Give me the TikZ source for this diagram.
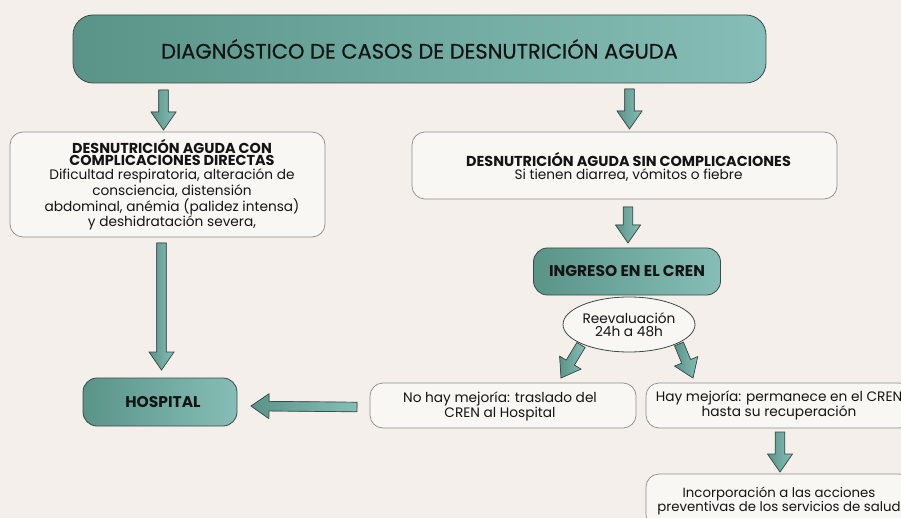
\documentclass[tikz,border=0pt]{standalone}
\usepackage{fontspec}
\setmainfont{Poppins}
\newfontfamily\titlef{Poppins}[FakeBold=0.6]
\usetikzlibrary{calc,shapes.geometric}
\definecolor{bg}{HTML}{F4EFEA}
\definecolor{boxfill}{HTML}{F9F7F4}
\definecolor{boxline}{HTML}{8C8C8C}
\definecolor{tealdark}{HTML}{5A9488}
\definecolor{teallight}{HTML}{86BEB7}
\definecolor{outl}{HTML}{3C4A47}
\definecolor{txt}{HTML}{141414}
\newcommand\hdf{\bfseries\fontsize{14.4}{11}\selectfont}
\newcommand\blockarrow[2]{%
  \filldraw[draw=outl,line width=0.7pt,left color=tealdark,right color=teallight,line join=miter]
   ($(#1)!4.8pt!90:(#2)$) -- ($($(#2)!18pt!(#1)$)!4.8pt!90:(#2)$)
   -- ($($(#2)!18pt!(#1)$)!12.5pt!90:(#2)$) -- (#2)
   -- ($($(#2)!18pt!(#1)$)!12.5pt!-90:(#2)$)
   -- ($($(#2)!18pt!(#1)$)!4.8pt!-90:(#2)$)
   -- ($(#1)!4.8pt!-90:(#2)$) -- cycle;}
\begin{document}
\begin{tikzpicture}[x=1pt,y=-1pt,
  tealbox/.style={draw=outl,line width=0.8pt,rounded corners=15pt,left color=tealdark,right color=teallight,text=txt,align=center,inner sep=0pt},
  whitebox/.style={draw=boxline,line width=0.7pt,rounded corners=13pt,fill=boxfill,text=txt,align=center,inner sep=0pt,font=\fontsize{13.7}{12.7}\selectfont},
  boxtext/.style={text=txt,align=center,inner sep=0pt,font=\fontsize{13.7}{12.7}\selectfont}
]
\useasboundingbox (0,0) rectangle (901,518);
\fill[bg] (0,0) rectangle (901,518);
\begin{scope}
\clip (0,0) rectangle (901,518);
% nodes
\node[tealbox,rounded corners=20pt,minimum width=693pt,minimum height=68pt,font=\titlef\fontsize{21}{21}\selectfont] (top) at (419.5,49) {DIAGNÓSTICO DE CASOS DE DESNUTRICIÓN AGUDA};
\node[whitebox,minimum width=315pt,minimum height=105pt] (left) at (167.5,184.5) {};
\node[boxtext] (leftT) at (172,184.5)
 {{\hdf DESNUTRICIÓN AGUDA CON}\\[0pt]{\hdf COMPLICACIONES DIRECTAS}\\[1.5pt]Dificultad respiratoria, alteración de\\consciencia, distensión\\abdominal, anémia (palidez intensa)\\y deshidratación severa,};
\node[whitebox,minimum width=425pt,minimum height=67pt] (right) at (624.5,165.5) {};
\node[boxtext] (rightT) at (628.5,167)
 {{\hdf DESNUTRICIÓN AGUDA SIN COMPLICACIONES}\\[1pt]Si tienen diarrea, vómitos o fiebre};
\node[tealbox,rounded corners=14pt,minimum width=187pt,minimum height=47pt,font=\bfseries\fontsize{15.5}{15}\selectfont] (cren) at (627,271.5) {INGRESO EN EL CREN};
\node[ellipse,draw=outl,line width=0.8pt,fill=boxfill,minimum width=132pt,minimum height=55pt,inner sep=0pt,align=center,text=txt,font=\fontsize{13.7}{13}\selectfont] (reev) at (629,324.5) {Reevaluación\\24h a 48h};
\node[whitebox,minimum width=266pt,minimum height=45pt] (nohay) at (503,405.5) {};
\node[boxtext] (nohayT) at (500,406) {No hay mejoría: traslado del\\CREN al Hospital};
\node[whitebox,minimum width=266pt,minimum height=45pt] (hay) at (779,405.5) {Hay mejoría: permanece en el CREN\\hasta su recuperación};
\node[whitebox,minimum width=266pt,minimum height=54pt,font=\fontsize{13.3}{12.7}\selectfont] (incorp) at (779,501) {Incorporación a las acciones\\preventivas de los servicios de salud};
\node[tealbox,rounded corners=14pt,minimum width=154pt,minimum height=48pt,font=\bfseries\fontsize{15.5}{15}\selectfont] (hosp) at (160,402) {\hspace{6pt}HOSPITAL};
% arrow end points
\coordinate (a1s) at (163.5,90);  \coordinate (a1e) at (163.5,130);
\coordinate (a2s) at (629.5,89);  \coordinate (a2e) at (629.5,129);
\coordinate (a3s) at (628,207);   \coordinate (a3e) at (628,243);
\coordinate (a4s) at (161.5,243); \coordinate (a4e) at (161.5,370);
\coordinate (a5s) at (357,407);   \coordinate (a5e) at (251,406);
\coordinate (a6s) at (581,345);   \coordinate (a6e) at (561,378);
\coordinate (a7s) at (679,344);   \coordinate (a7e) at (693,378);
\coordinate (a8s) at (780,432);   \coordinate (a8e) at (780,472);
\blockarrow{a1s}{a1e}
\blockarrow{a2s}{a2e}
\blockarrow{a3s}{a3e}
\blockarrow{a4s}{a4e}
\blockarrow{a5s}{a5e}
\blockarrow{a6s}{a6e}
\blockarrow{a7s}{a7e}
\blockarrow{a8s}{a8e}
\end{scope}
\end{tikzpicture}
\end{document}
